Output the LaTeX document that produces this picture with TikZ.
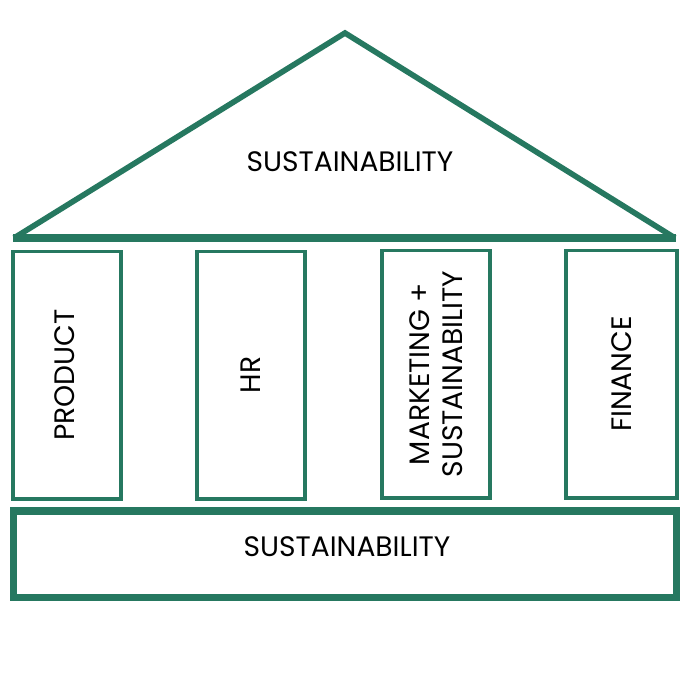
\documentclass[tikz,border=0pt]{standalone}
\usepackage{fontspec}
\setmainfont{Poppins}
\definecolor{pillargreen}{RGB}{38,120,96}
\tikzset{
  pillar/.style={draw=pillargreen, line width=1.1pt, minimum width=1.08cm, minimum height=2.47cm, inner sep=0pt},
  label/.style={font=\fontsize{8}{9.4}\selectfont, align=center, inner sep=0pt}
}
\begin{document}
\begin{tikzpicture}[x=0.01cm, y=-0.01cm]
  \useasboundingbox (0,0) rectangle (690,690);
  % roof
  \draw [pillargreen, line width=1.6pt, line join=miter] (14,238) -- (345,33) -- (675,238);
  \draw [pillargreen, line width=2pt] (13,238) -- (676,238);
  \node [label] (roof) at (350,162) {SUSTAINABILITY};
  % pillars
  \node [pillar] (product) at (67,375) {};
  \node [pillar] (hr) at (251,375) {};
  \node [pillar] (marketing) at (436,374) {};
  \node [pillar, minimum width=1.11cm] (finance) at (621.5,374) {};
  \node [label, rotate=90] (productlabel) at (65,375) {PRODUCT};
  \node [label, rotate=90] (hrlabel) at (hr) {HR};
  \node [label, rotate=90] (marketinglabel) at (marketing) {MARKETING +\\SUSTAINABILITY};
  \node [label, rotate=90] (financelabel) at (finance) {FINANCE};
  % base
  \node [pillar, line width=2pt, minimum width=6.62cm, minimum height=0.86cm] (base) at (345,554) {};
  \node [label] (baselabel) at (347,547) {SUSTAINABILITY};
\end{tikzpicture}
\end{document}
